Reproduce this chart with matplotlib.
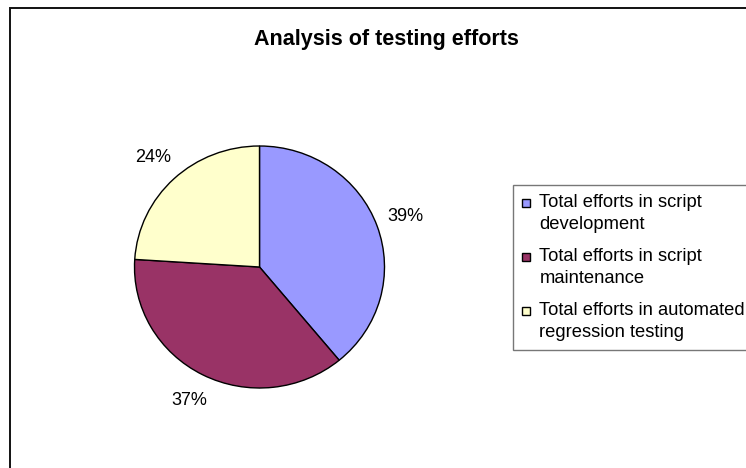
import matplotlib
matplotlib.use('Agg')
import matplotlib.pyplot as plt
from matplotlib.patches import Rectangle
from matplotlib.legend_handler import HandlerPatch

plt.rcParams['font.family'] = ['Liberation Sans', 'DejaVu Sans']

# data
categories = ['Total efforts in script\ndevelopment',
              'Total efforts in script\nmaintenance',
              'Total efforts in automated\nregression testing']
shares = [39, 37, 24]
colors = ['#9999FF', '#993366', '#FFFFCC']
title = 'Analysis of testing efforts'

W, H = 746, 468
fig = plt.figure(figsize=(W / 100, H / 100), dpi=100)
fig.patch.set_facecolor('white')

# outer chart border (only left and top edges visible)
fig.add_artist(Rectangle((10 / W, -0.1), 1.2, (H - 8) / H + 0.1,
                         transform=fig.transFigure, fill=False,
                         edgecolor='#111111', linewidth=1.4))

# pie axes, slightly elliptical like the original
cx, cy, rx, ry = 259.5, 267, 125, 121
ax = fig.add_axes([(cx - rx) / W, (H - cy - ry) / H, 2 * rx / W, 2 * ry / H])
wedges, texts, autotexts = ax.pie(
    shares, colors=colors, startangle=90, counterclock=False,
    autopct='%d%%', pctdistance=1.24,
    wedgeprops=dict(edgecolor='black', linewidth=1.0),
    textprops=dict(fontsize=13, color='black'))
ax.set_aspect('auto')
ax.set_xlim(-1, 1)
ax.set_ylim(-1, 1)
ax.axis('off')

fig.text(386 / W, 1 - 39 / H, title, ha='center', va='center',
         fontsize=15.5, fontweight='bold')

LS = 1.39  # line spacing inside a legend entry


def top_square(legend, orig_handle, xdescent, ydescent, width, height, fontsize):
    # excel puts the marker next to the first line of a wrapped label
    shift = 0.71 * fontsize
    return Rectangle((-xdescent, shift), width, width)


leg = fig.legend(wedges, categories, loc='upper left',
                 bbox_to_anchor=(513 / W, 1 - 185 / H),
                 fontsize=13.2, frameon=True, fancybox=False,
                 edgecolor='#555555', handlelength=0.44, handleheight=0.6,
                 handletextpad=0.5, labelspacing=0.81, borderpad=0.5,
                 borderaxespad=0,
                 handler_map={w: HandlerPatch(patch_func=top_square) for w in wedges})
leg.get_frame().set_linewidth(1.0)
for t in leg.get_texts():
    t.set_linespacing(LS)

fig.savefig('out.png', dpi=100)
